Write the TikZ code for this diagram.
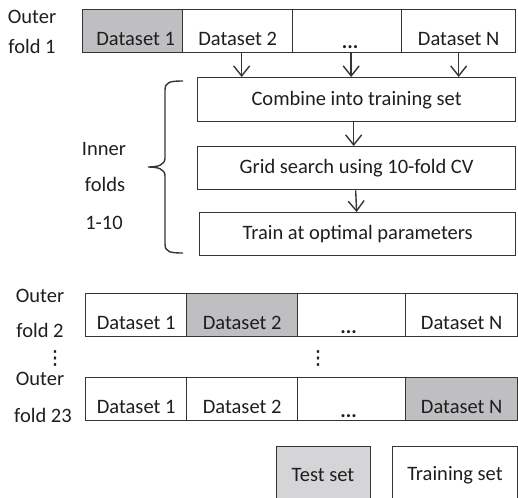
\documentclass[tikz,border=0pt]{standalone}
\usepackage{fontspec}
\setmainfont{Carlito}
\newfontfamily\djv{DejaVu Sans}[FakeBold=1.5]
\usetikzlibrary{arrows.meta}
\definecolor{lineC}{HTML}{353535}
\definecolor{testC}{HTML}{BFBFC2}
\definecolor{legC}{HTML}{D5D5D7}
\definecolor{txtC}{HTML}{1E1E1E}
\tikzset{
  cell/.style={draw=lineC, line width=1.3pt, rectangle, inner sep=0pt, anchor=north west},
  celltxt/.style={anchor=base, inner sep=0pt, text=txtC, font=\fontsize{20.5}{24}\selectfont},
  lbl/.style={anchor=base, inner sep=0pt, text=txtC, font=\fontsize{20.5}{24}\selectfont},
  stepbox/.style={draw=lineC, line width=1.3pt, rectangle, inner sep=0pt, anchor=north west, text=txtC, font=\fontsize{20.5}{24}\selectfont},
  vdot/.style={inner sep=0pt, text=txtC, font=\djv\fontsize{19}{22}\selectfont},
  arr/.style={draw=lineC, line width=1.4pt, -{Straight Barb[length=10pt,width=16pt,line width=1.4pt]}},
}
\begin{document}
\begin{tikzpicture}[x=1pt,y=-1pt]
\useasboundingbox (0,0) rectangle (518,497);
\clip (0,0) rectangle (518,497);
% Row 1
\node[cell, fill=testC, minimum width=100pt, minimum height=43pt] (a1) at (82,9) {};
\node[cell, fill=white, minimum width=110pt, minimum height=43pt] (a2) at (182,9) {};
\node[cell, fill=white, minimum width=109pt, minimum height=43pt] (a3) at (292,9) {};
\node[cell, fill=white, minimum width=114pt, minimum height=43pt] (a4) at (401,9) {};
\node[celltxt] (ta1) at ([yshift=8pt]a1.south) {\hspace*{6pt}Dataset 1};
\node[celltxt] (ta2) at ([yshift=8pt]a2.south) {Dataset 2};
\node[celltxt] (ta3) at ([yshift=5pt,xshift=3pt]a3.south) {\textbf{...}};
\node[celltxt] (ta4) at ([yshift=8pt]a4.south) {Dataset N};
\node[lbl] (o1) at (32,24) {Outer};
\node[lbl] (f1) at (32,54) {fold 1};
% Inner steps
\node[stepbox, minimum width=318pt, minimum height=44pt] (comb) at (197,77) {Combine into training set};
\node[stepbox, minimum width=318pt, minimum height=43pt] (grid) at (197,146) {Grid search using 10-fold CV};
\node[stepbox, minimum width=316pt, minimum height=43pt] (train) at (199,212) {Train at optimal parameters};
\draw[arr] ([xshift=4pt]a2.south) -- ([xshift=4pt]a2.south |- comb.north);
\draw[arr] ([xshift=4pt]a3.south) -- ([xshift=4pt]a3.south |- comb.north);
\draw[arr] (a4.south) -- (a4.south |- comb.north);
\draw[arr] ([xshift=-3pt]comb.south) -- ([xshift=-3pt]grid.north);
\draw[arr] ([xshift=-1pt]grid.south) -- ([xshift=-1pt]train.north);
% Brace
\draw[lineC, line width=1.4pt] (183,81) .. controls (170,81) and (165,82) .. (165,90) -- (165,158)
  .. controls (165,165) and (158,167) .. (148,167)
  .. controls (158,167) and (165,169) .. (165,176) -- (165,244)
  .. controls (165,252) and (170,253) .. (183,253);
\node[lbl] (in1) at (104,155) {Inner};
\node[lbl] (in2) at (105,191) {folds};
\node[lbl] (in3) at (104,229) {1-10};
% Row 2
\node[cell, fill=white, minimum width=101pt, minimum height=43pt] (b1) at (85,293) {};
\node[cell, fill=testC, minimum width=111pt, minimum height=43pt] (b2) at (186,293) {};
\node[cell, fill=white, minimum width=108pt, minimum height=43pt] (b3) at (297,293) {};
\node[cell, fill=white, minimum width=112pt, minimum height=43pt] (b4) at (405,293) {};
\node[celltxt] (tb1) at ([yshift=8pt]b1.south) {Dataset 1};
\node[celltxt] (tb2) at ([yshift=8pt]b2.south) {Dataset 2};
\node[celltxt] (tb3) at ([yshift=4pt,xshift=-3pt]b3.south) {\textbf{...}};
\node[celltxt] (tb4) at ([yshift=8pt]b4.south) {Dataset N};
\node[lbl] (o2) at (40,302) {Outer};
\node[lbl] (f2) at (40,337) {fold 2};
% Row 3
\node[cell, fill=white, minimum width=101pt, minimum height=43pt] (c1) at (85,377) {};
\node[cell, fill=white, minimum width=111pt, minimum height=43pt] (c2) at (186,377) {};
\node[cell, fill=white, minimum width=108pt, minimum height=43pt] (c3) at (297,377) {};
\node[cell, fill=testC, minimum width=112pt, minimum height=43pt] (c4) at (405,377) {};
\node[celltxt] (tc1) at ([yshift=8pt]c1.south) {Dataset 1};
\node[celltxt] (tc2) at ([yshift=8pt]c2.south) {Dataset 2};
\node[celltxt] (tc3) at ([yshift=4pt,xshift=-3pt]c3.south) {\textbf{...}};
\node[celltxt] (tc4) at ([yshift=8pt]c4.south) {Dataset N};
\node[lbl] (o3) at (40,385) {Outer};
\node[lbl] (f3) at (43,422) {fold 23};
% vertical dots
\node[vdot] (vd1) at (55,358) {⋮};
\node[vdot] (vd2) at (318,358) {⋮};
% Legend
\node[cell, fill=legC, minimum width=94pt, minimum height=70pt] (leg1) at (276,446) {};
\node[cell, fill=white, minimum width=125pt, minimum height=70pt] (leg2) at (392,446) {};
\node[lbl] (lt1) at (323,481) {Test set};
\node[lbl] (lt2) at (455,480) {Training set};
\end{tikzpicture}
\end{document}
